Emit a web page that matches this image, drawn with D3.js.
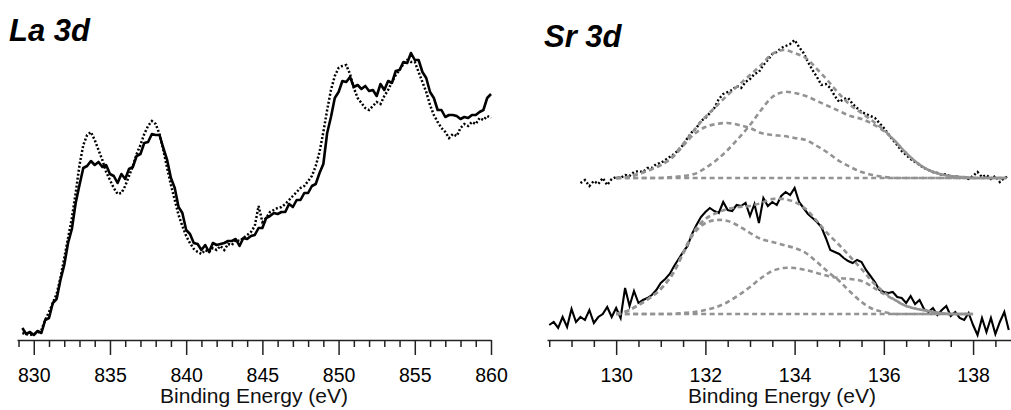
<!DOCTYPE html>
<html><head><meta charset="utf-8">
<script src="https://cdn.jsdelivr.net/npm/d3@7"></script>
<style>
html,body{margin:0;padding:0;background:#fff;}
svg{display:block;}
text{font-family:"Liberation Sans", Arial, sans-serif; fill:#000;}
</style></head><body>
<svg id="chart" width="1011" height="410"></svg>
<script>
// ---- La 3d: two spectra sampled every 0.25 eV from 829.25 eV ----
const laStart = 829.25, laStep = 0.25;
const laSolid = [
  12,6,8,5,9,7,20,22,37,41,60,75,97,111,137,155,172,174,179,175,
  178,173,175,166,164,157,166,161,171,173,184,186,197,198,206,205,205,192,180,162,
  152,133,127,110,106,97,96,90,95,88,97,95,96,97,99,99,101,94,102,101,
  104,105,112,112,122,124,127,126,128,128,136,133,140,140,147,147,154,156,167,176,
  207,223,242,248,259,258,263,253,255,251,254,249,250,244,256,250,259,257,269,270,
  278,277,287,280,280,268,262,248,242,230,230,223,225,225,224,221,223,222,225,225,
  228,230,242,246
];
const laDotted = [
  7,6,5,6,7,10,20,28,37,46,62,82,102,122,147,175,195,205,208,200,
  190,180,168,160,152,146,147,154,164,174,186,195,206,214,219,216,206,190,172,155,
  140,125,114,104,97,91,88,86,90,88,92,90,94,90,96,95,100,99,102,105,
  108,114,134,118,122,128,130,132,133,136,140,144,148,152,154,159,164,174,188,208,
  230,250,264,272,274,275,266,252,242,237,232,230,234,238,236,244,250,258,265,270,
  276,280,278,278,268,258,248,235,225,218,212,208,202,206,204,212,216,214,218,216,
  222,220,224,222
];
const laMajorTicks = [830, 835, 840, 845, 850, 855, 860];

// ---- Sr 3d: measured spectra, 0.1 eV steps ----
const srStep = 0.1;
const srLowerStart = 128.5;
const srLower = [
  15,18,12,23,13,31,18,23,20,30,
  17,23,26,33,23,32,22,52,34,49,
  37,40,42,45,50,57,61,66,74,81,
  88,94,106,115,123,128,132,129,127,138,
  130,129,135,134,137,124,136,117,142,134,
  138,135,144,148,145,152,138,132,126,122,
  118,113,102,90,88,86,82,79,77,80,
  78,70,64,58,50,48,47,48,43,42,
  37,44,36,40,31,28,32,25,30,34,
  24,28,22,20,27,15,5,22,8,22,
  6,18,28,10
];
const srUpperStart = 129.2;
const srUpper = [
  157,160,154,159,156,162,155,161,163,162,
  165,164,168,169,168,172,172,176,177,180,
  183,186,190,195,202,208,212,219,222,227,
  232,241,246,248,250,254,252,258,261,266,
  268,275,280,286,288,292,294,296,300,293,
  287,278,270,263,255,256,252,244,238,241,
  242,236,232,228,226,224,222,217,212,206,
  200,195,189,185,181,178,175,172,170,168,
  167,165,166,163,164,162,163,161,164,168,
  163,165,161,164,158,162,164
];

// ---- Sr 3d peak fits, 0.25 eV steps from 130 eV ----
const fitStart = 130.0, fitStep = 0.25;
const upperBackground = [162,162,162,162,162,162,162,162,162,162,162,162,162,162,162,162,162,162,162,162,162,162,162,162,162,162,162,162,162,162,162,162,162,162,162,162];
const upperComp1 = [162,163,166,170,175,182,194,206,213,216,217,215,212,207,205,204,202,200,194,187,179,173,168,165,163,162,162,162,162,162,162,162,162,162,162,162];
const upperComp2 = [162,162,162,162,162,163,164,166,172,180,190,202,215,230,243,248,247,244,239,234,229,224,221,216,209,199,187,177,170,166,164,163,162,162,162,162];
const upperEnvelope = [162,163,166,170,175,183,196,210,223,234,245,255,265,275,286,290,287,282,271,259,246,235,227,219,210,199,187,177,170,166,164,163,162,162,162,162];
const lowerBackground = [26,26,26,26,26,26,26,26,26,26,26,26,26,26,26,26,26,26,26,26,26,26,26,26,26,26,26,26,26,26,26,26,26];
const lowerComp1 = [26,29,35,42,51,65,86,107,117,120,119,114,107,101,98,95,92,87,78,68,59,48,38,31,28,26,26,26,26,26,26,26,26];
const lowerComp2 = [26,26,26,26,26,26,27,28,30,33,38,45,53,62,69,72,72,70,67,64,62,61,59,53,46,40,34,31,29,27,26,26,26];
const lowerEnvelope = [26,29,35,42,51,65,87,109,121,127,131,133,134,137,141,141,138,131,119,106,95,83,71,58,48,40,34,31,29,27,26,26,26];
const srMajorTicks = [130, 132, 134, 136, 138];

// ---- drawing ----
const svg = d3.select("#chart");
const toPoints = (vals, start, step) => vals.map((v, i) => [start + i * step, v]);

function drawAxis(x, major, minorStep, titleX) {
  const [d0, d1] = x.domain();
  const minor = d3.range(Math.ceil(d0 / minorStep) * minorStep, d1 + 1e-9, minorStep)
    .filter(t => !major.some(m => Math.abs(m - t) < 1e-6));
  const gMinor = svg.append("g").attr("transform", "translate(0,340)")
    .call(d3.axisBottom(x).tickValues(minor).tickSize(7).tickSizeOuter(0).tickFormat(""));
  gMinor.select(".domain").remove();
  const gMajor = svg.append("g").attr("transform", "translate(0,340)")
    .call(d3.axisBottom(x).tickValues(major).tickSize(15).tickSizeOuter(0).tickFormat(d3.format("d")));
  svg.selectAll(".tick line").attr("stroke", "#222").attr("stroke-width", 1.5);
  gMajor.select(".domain").attr("stroke", "#222").attr("stroke-width", 1.5);
  gMajor.selectAll(".tick text").attr("y", 28).attr("dy", "0.71em")
    .style("font-family", "'Liberation Sans', Arial, sans-serif").style("font-size", "19.5px").attr("fill", "#111");
  svg.append("text").attr("x", titleX).attr("y", 403).attr("text-anchor", "middle")
    .style("font-size", "21px").style("fill", "#111").text("Binding Energy (eV)");
}

// La 3d panel
const xLa = d3.scaleLinear().domain([828.9, 860]).range([17, 491]);
const yLa = d3.scaleLinear().domain([0, 280]).range([340, 60]);
const lineLa = d3.line().x(d => xLa(d[0])).y(d => yLa(d[1]));
svg.append("path").datum(toPoints(laDotted, laStart, laStep)).attr("d", lineLa)
  .attr("fill", "none").attr("stroke", "#000").attr("stroke-width", 2.5).attr("stroke-dasharray", "2,2");
svg.append("path").datum(toPoints(laSolid, laStart, laStep)).attr("d", lineLa)
  .attr("fill", "none").attr("stroke", "#000").attr("stroke-width", 2.6).attr("stroke-linejoin", "round");
drawAxis(xLa, laMajorTicks, 1, 254);
svg.append("text").attr("x", 9).attr("y", 41)
  .style("font-size", "31px").style("font-weight", "bold").style("font-style", "italic").text("La 3d");

// Sr 3d panel
const xSr = d3.scaleLinear().domain([128.45, 138.85]).range([547, 1011]);
const ySr = d3.scaleLinear().domain([0, 300]).range([340, 40]);
const lineSr = d3.line().x(d => xSr(d[0])).y(d => ySr(d[1]));
const fitLine = d3.line().x(d => xSr(d[0])).y(d => ySr(d[1])).curve(d3.curveCatmullRom);

svg.append("path").datum(toPoints(srUpper, srUpperStart, srStep)).attr("d", lineSr)
  .attr("fill", "none").attr("stroke", "#000").attr("stroke-width", 2.4).attr("stroke-dasharray", "2,2.2");
svg.append("path").datum(toPoints(srLower, srLowerStart, srStep)).attr("d", lineSr)
  .attr("fill", "none").attr("stroke", "#000").attr("stroke-width", 2.1).attr("stroke-linejoin", "miter");

[upperBackground, upperComp1, upperComp2, upperEnvelope,
 lowerBackground, lowerComp1, lowerComp2, lowerEnvelope].forEach(arr => {
  svg.append("path").datum(toPoints(arr, fitStart, fitStep)).attr("d", fitLine)
    .attr("fill", "none").attr("stroke", "#939393").attr("stroke-width", 2.6)
    .attr("stroke-dasharray", "5,3.5");
});
drawAxis(xSr, srMajorTicks, 0.5, 782);
svg.append("text").attr("x", 544).attr("y", 47)
  .style("font-size", "31px").style("font-weight", "bold").style("font-style", "italic").text("Sr 3d");
</script>
</body></html>
